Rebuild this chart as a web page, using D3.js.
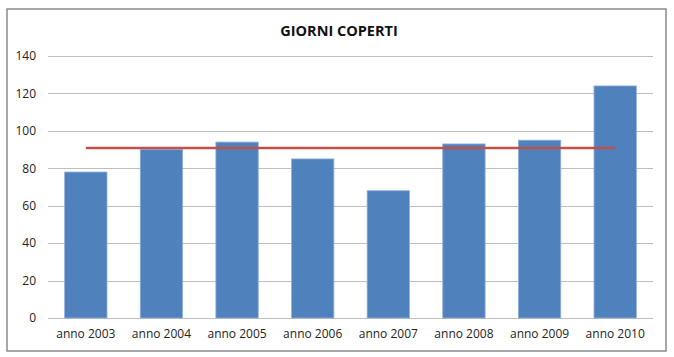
<!DOCTYPE html>
<html><head><meta charset="utf-8">
<script src="https://cdnjs.cloudflare.com/ajax/libs/d3/7.8.5/d3.min.js"></script>
<style>body{margin:0;background:#fff}svg{display:block}</style>
</head><body>
<svg id="c" width="674" height="357"></svg>
<script>
const categories = ["anno 2003","anno 2004","anno 2005","anno 2006","anno 2007","anno 2008","anno 2009","anno 2010"];
const values = [78, 90, 94, 85, 68, 93, 95, 124];
const averageValues = [90.9, 90.9, 90.9, 90.9, 90.9, 90.9, 90.9, 90.9];
const yTicks = [0, 20, 40, 60, 80, 100, 120, 140];
const title = "GIORNI COPERTI";

const svg = d3.select("#c");
const font = "'Open Sans', 'Liberation Sans', sans-serif";
const m = {left: 48, right: 21, top: 56, bottom: 39};
const W = 674, H = 357;

svg.append("rect").attr("x", 7).attr("y", 9).attr("width", 659).attr("height", 342)
  .attr("fill", "#fff").attr("stroke", "#8a8a8a").attr("stroke-width", 1.5);

const x = d3.scaleBand().domain(categories).range([m.left, W - m.right]).paddingInner(0.44).paddingOuter(0.22);
const y = d3.scaleLinear().domain([0, 140]).range([H - m.bottom, m.top]);

// gridlines
svg.append("g").selectAll("line").data(yTicks).join("line")
  .attr("x1", m.left).attr("x2", W - m.right)
  .attr("y1", d => Math.round(y(d)) + 0.5).attr("y2", d => Math.round(y(d)) + 0.5)
  .attr("stroke", "#bdbdbd").attr("stroke-width", 1);

// y labels
const yAxis = d3.axisLeft(y).tickValues(yTicks).tickSize(0).tickPadding(12);
const ya = svg.append("g").attr("transform", `translate(${m.left},0)`).call(yAxis);
ya.select(".domain").remove();
ya.selectAll("text").attr("font-family", font).attr("font-size", 12).attr("fill", "#222");

// bars
svg.append("g").selectAll("rect").data(values).join("rect")
  .attr("x", (d, i) => x(categories[i]))
  .attr("y", d => y(d))
  .attr("width", x.bandwidth())
  .attr("height", d => y(0) - y(d))
  .attr("fill", "#4f81bd").attr("stroke", "#8fb0dc").attr("stroke-width", 0.8);

// x axis
const xAxis = d3.axisBottom(x).tickSize(0).tickPadding(11);
const xa = svg.append("g").attr("transform", `translate(0,${y(0)})`).call(xAxis);
xa.select(".domain").remove();
xa.selectAll("text").attr("font-family", font).attr("font-size", 12).attr("fill", "#222");

// average line
const line = d3.line().x((d, i) => x(categories[i]) + x.bandwidth() / 2).y(d => y(d));
svg.append("path").datum(averageValues).attr("d", line)
  .attr("fill", "none").attr("stroke", "#c0504d").attr("stroke-width", 2.5);

// title
svg.append("text").attr("x", 339).attr("y", 36).attr("text-anchor", "middle")
  .attr("font-family", font).attr("font-weight", "bold").attr("font-size", 14.5)
  .attr("fill", "#111").text(title);
</script>
</body></html>
